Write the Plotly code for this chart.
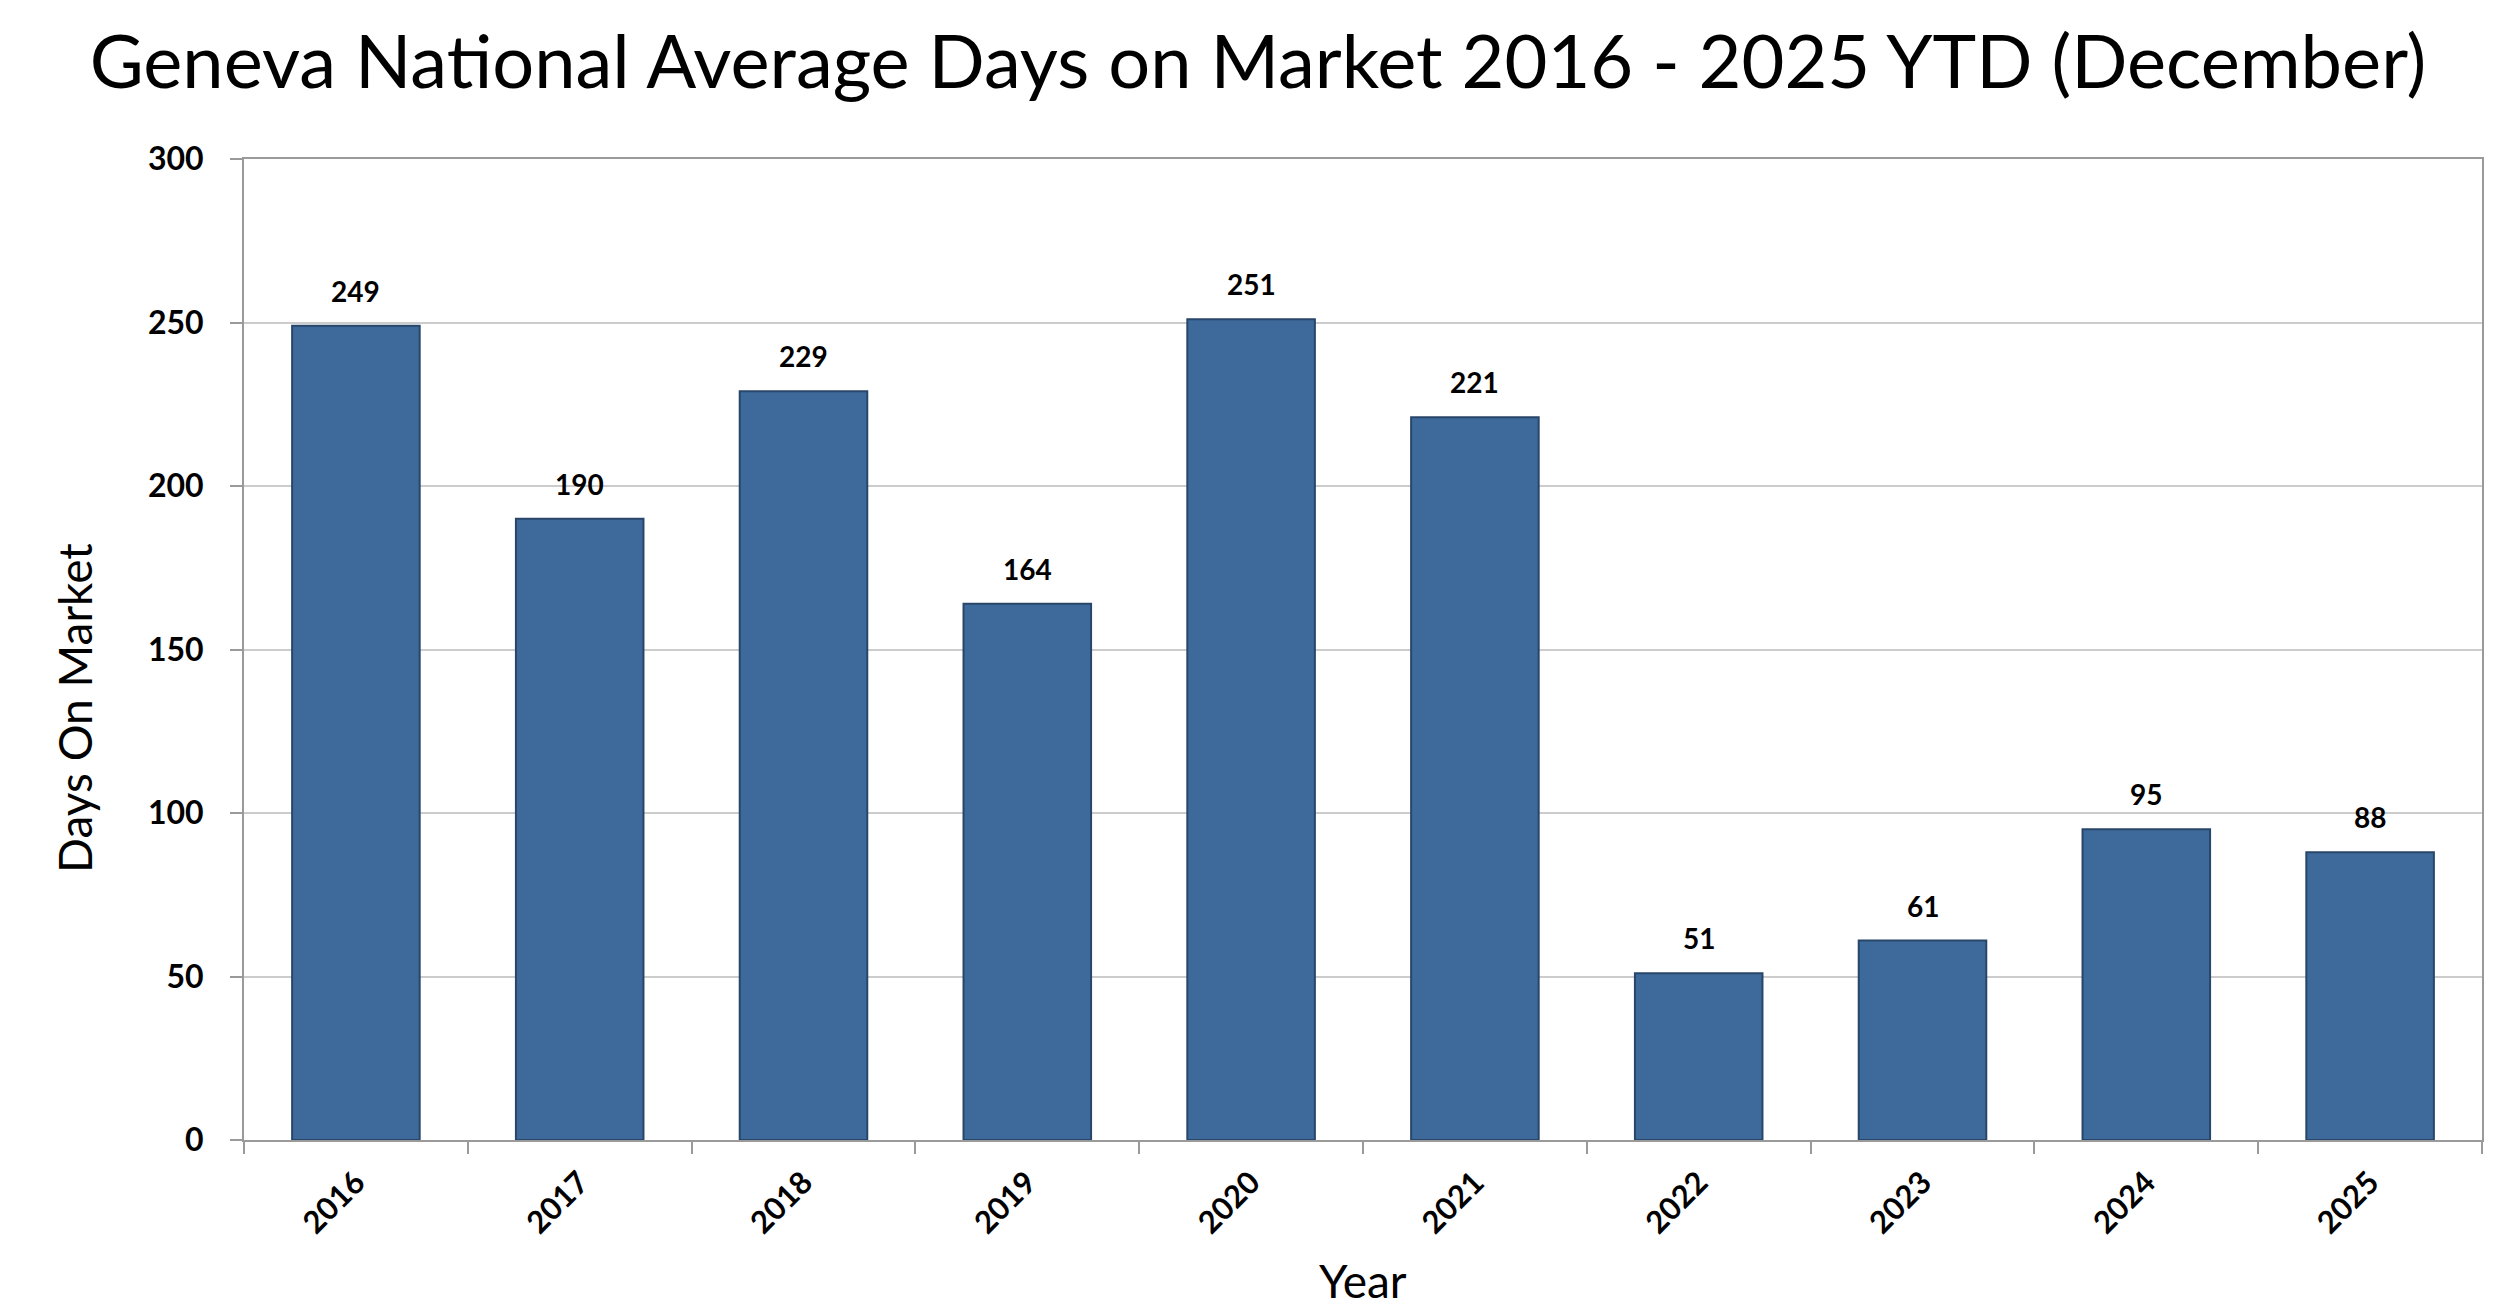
import plotly.graph_objects as go

years = ["2016", "2017", "2018", "2019", "2020", "2021", "2022", "2023", "2024", "2025"]
days = [249, 190, 229, 164, 251, 221, 51, 61, 95, 88]
y_ticks = [0, 50, 100, 150, 200, 250, 300]

title_text = "Geneva National Average Days on Market 2016 - 2025 YTD (December)"
x_title = "Year"
y_title = "Days On Market"

FONT = "Lato"
W, H = 2500, 1315
L, R, T, B = 236, 26, 151, 183
PW, PH = W - L - R, H - T - B

fig = go.Figure()
fig.add_trace(go.Bar(
    x=years, y=days,
    marker=dict(color="#3e6a9b", line=dict(color="#284669", width=2)),
    hoverinfo="skip",
))

annotations = []
for i, v in enumerate(days):
    annotations.append(dict(
        x=i, y=v, xref="x", yref="y", text=str(v), showarrow=False,
        yanchor="bottom", yshift=16,
        font=dict(family=FONT, size=28, color="black", weight="bold"),
    ))
# axis titles
annotations.append(dict(
    text=y_title, xref="paper", yref="paper",
    x=(66 - L) / PW, y=(H - B - 700) / PH, xanchor="center", yanchor="middle",
    textangle=-90, showarrow=False,
    font=dict(family=FONT, size=46, color="black"),
))
annotations.append(dict(
    text=x_title, xref="paper", yref="paper",
    x=(1355 - L) / PW, y=-(1272 - (H - B)) / PH, xanchor="center", yanchor="middle",
    showarrow=False,
    font=dict(family=FONT, size=46, color="black"),
))

fig.update_layout(
    width=W, height=H,
    margin=dict(l=L, r=R, t=T, b=B),
    paper_bgcolor="white", plot_bgcolor="white",
    showlegend=False,
    title=dict(text=title_text, x=0.5, xanchor="center", y=1 - 54 / H,
               yref="container", yanchor="middle",
               font=dict(family=FONT, size=74, color="black")),
    annotations=annotations,
    bargap=0.43,
)
fig.update_xaxes(
    type="category", categoryorder="array", categoryarray=years,
    range=[-0.5, len(years) - 0.5],
    tickangle=-45, tickson="boundaries",
    ticks="outside", ticklen=12, tickcolor="#9a9a9a", tickwidth=2,
    showline=True, linecolor="#9a9a9a", linewidth=2, mirror=True,
    showgrid=False, ticklabelstandoff=10,
    tickfont=dict(family=FONT, size=31, color="black", weight="bold"),
)
fig.update_yaxes(
    range=[0, 300], tickvals=y_ticks,
    ticks="outside", ticklen=12, tickcolor="#9a9a9a", tickwidth=2,
    showline=True, linecolor="#9a9a9a", linewidth=2, mirror=True,
    showgrid=True, gridcolor="#cccccc", gridwidth=2,
    zeroline=False, ticklabelstandoff=20,
    tickfont=dict(family=FONT, size=32, color="black", weight="bold"),
)

fig.write_html("out.html")
